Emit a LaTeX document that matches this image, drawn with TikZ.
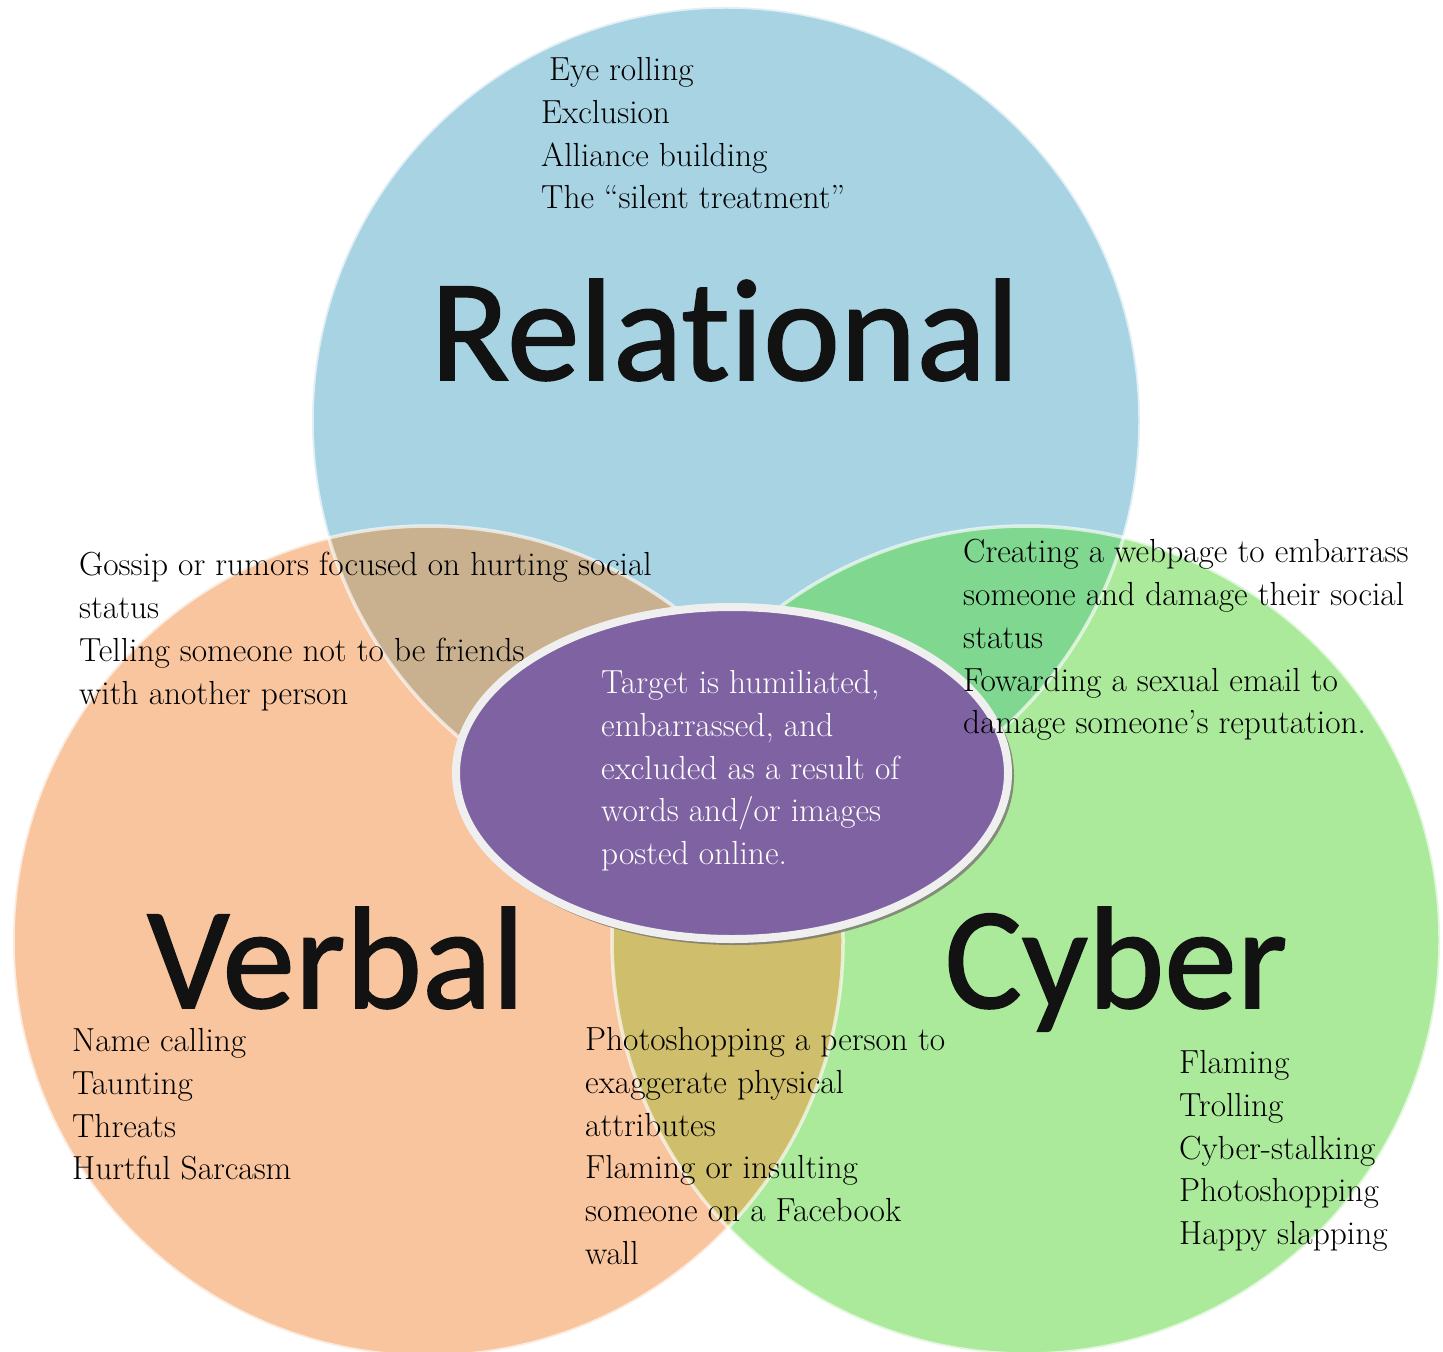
\documentclass[tikz,border=0pt]{standalone}
\usepackage{fontspec}
\newfontfamily\headfont[Ligatures=NoCommon, FakeBold=1.1]{Carlito}
\usetikzlibrary{shapes.geometric}
\definecolor{cblue}{HTML}{A7D3E3}
\definecolor{corange}{HTML}{F8C59F}
\definecolor{cgreen}{HTML}{ABEA9B}
\definecolor{ctan}{HTML}{C9B18F}
\definecolor{cdgreen}{HTML}{80D78F}
\definecolor{colive}{HTML}{CFBF6D}
\definecolor{cpurple}{HTML}{7F62A1}
\definecolor{crim}{HTML}{EFEFEF}
\definecolor{cshadow}{HTML}{7A7570}
\begin{document}
\begin{tikzpicture}[x=1bp,y=-1bp,
  lst/.style={anchor=north west, inner sep=0pt, align=left, font=\fontsize{33.5}{43}\selectfont},
  head/.style={anchor=base, inner sep=0pt, font=\headfont\fontsize{146}{146}\selectfont, text=black!93},
  rim/.style={draw=white, draw opacity=0.65, line width=3.5bp}]
\useasboundingbox (0,0) rectangle (1443,1352);
\fill[white] (0,0) rectangle (1443,1352);
% circles
\fill[cblue] (726,421) circle[radius=414bp];
\fill[corange] (428,941) circle[radius=415bp];
\fill[cgreen] (1026,940) circle[radius=414bp];
\begin{scope}
  \clip (428,941) circle[radius=415bp];
  \fill[ctan] (726,421) circle[radius=414bp];
\end{scope}
\begin{scope}
  \clip (1026,940) circle[radius=414bp];
  \fill[cdgreen] (726,421) circle[radius=414bp];
\end{scope}
\begin{scope}
  \clip (428,941) circle[radius=415bp];
  \fill[colive] (1026,940) circle[radius=414bp];
\end{scope}
\path[rim] (726,421) circle[radius=414bp];
\path[rim] (428,941) circle[radius=415bp];
\path[rim] (1026,940) circle[radius=414bp];
% headings
\node[head] (relational) at (725,380) {Relational};
\node[head] (verbal) at (336,1008) {Verbal};
\node[head] (cyber) at (1116,1008) {Cyber};
% center ellipse
\node[ellipse, fill=cshadow, fill opacity=0.8, minimum width=558bp, minimum height=338bp, inner sep=0pt] (shadow) at (735,776) {};
\node[ellipse, fill=cpurple, draw=crim, line width=8bp, minimum width=552bp, minimum height=332bp, inner sep=0pt] (center) at (732,773) {};
\node[lst, text=white] (centertext) at (601,670) {Target is humiliated,\\embarrassed, and\\excluded as a result of\\words and/or images\\posted online.};
% lists
\node[lst] (rellist) at (541,57) {\hspace*{8bp}Eye rolling\\Exclusion\\Alliance building\\The ``silent treatment''};
\node[lst] (relverb) at (79,552) {Gossip or rumors focused on hurting social\\status\\Telling someone not to be friends\\with another person};
\node[lst] (relcyber) at (963,539) {Creating a webpage to embarrass\\someone and damage their social\\status\\Fowarding a sexual email to\\damage someone's reputation.};
\node[lst] (verblist) at (72,1028) {Name calling\\Taunting\\Threats\\Hurtful Sarcasm};
\node[lst] (verbcyber) at (585,1027) {Photoshopping a person to\\exaggerate physical\\attributes\\Flaming or insulting\\someone on a Facebook\\wall};
\node[lst] (cyberlist) at (1179,1050) {Flaming\\Trolling\\Cyber-stalking\\Photoshopping\\Happy slapping};
\end{tikzpicture}
\end{document}
